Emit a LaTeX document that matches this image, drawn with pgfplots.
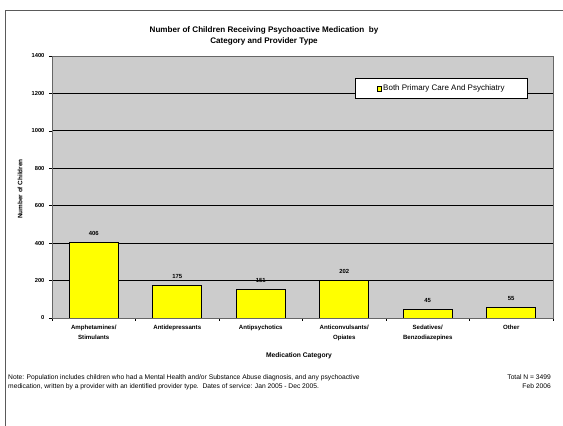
\documentclass[border=0pt]{standalone}
\usepackage{pgfplots}
\pgfplotsset{compat=1.18}
\usepackage{fontspec}
\setmainfont{Liberation Sans}
\definecolor{plotgray}{RGB}{204,204,204}
\definecolor{baryellow}{RGB}{255,255,0}
\definecolor{framegray}{RGB}{90,90,90}
\begin{document}
\begin{tikzpicture}[x=1pt,y=1pt]
\useasboundingbox (0,0) rectangle (563,426);
% outer frame
\draw[framegray, line width=0.9pt] (5,0) -- (5,416) -- (563,416);
% title
\node[align=center, font=\fontsize{8.1}{11}\selectfont\bfseries] at (264,390.5)
  {Number of Children Receiving Psychoactive Medication\ \ by\\Category and Provider Type};
% y label
\node[rotate=90, font=\fontsize{6.4}{7}\selectfont\bfseries] at (20,237) {Number of Children};
% x label
\node[font=\fontsize{6.7}{7}\selectfont\bfseries] at (299,70.5) {Medication Category};
% notes
\node[anchor=north west, align=left, font=\fontsize{6.7}{9.5}\selectfont, inner sep=0pt] at (8,52)
  {Note: Population includes children who had a Mental Health and/or Substance Abuse diagnosis, and any psychoactive\\
   medication, written by a provider with an identified provider type.\ \ Dates of service: Jan 2005 - Dec 2005.};
\node[anchor=north east, align=right, font=\fontsize{6.7}{9.5}\selectfont, inner sep=0pt] at (551,52)
  {Total N = 3499\\Feb 2006};
\begin{axis}[
  at={(52pt,108pt)}, anchor=south west,
  scale only axis, width=501pt, height=262pt,
  xmin=-0.5, xmax=5.5, ymin=0, ymax=1400,
  ytick={0,200,...,1400},
  xtick={0,...,5},
  xticklabels={{Amphetamines/\\Stimulants},Antidepressants,Antipsychotics,{Anticonvulsants/\\Opiates},{Sedatives/\\Benzodiazepines},Other},
  minor xtick={-0.5,0.5,...,5.5},
  major x tick style={draw=none},
  minor tick length=3pt, major tick length=3pt,
  tick pos=left, tick align=outside,
  tick style={black, line width=0.6pt},
  ymajorgrids, major grid style={black, line width=0.8pt},
  axis background/.style={fill=plotgray},
  axis line style={draw=gray!80!black, line width=0.8pt},
  /pgf/number format/assume math mode=true,
  /pgf/number format/1000 sep={},
  yticklabel style={font=\fontsize{5.8}{6}\selectfont\bfseries, xshift=-1pt},
  xticklabel style={font=\fontsize{6.1}{9.8}\selectfont\bfseries, align=center, yshift=-0.5pt},
  ybar, bar width=49pt,
  nodes near coords,
  nodes near coords style={font=\fontsize{5.9}{6}\selectfont\bfseries, yshift=3pt},
  legend style={at={(rel axis cs:0.95,0.916)}, anchor=north east, draw=black, fill=white,
    line width=0.7pt, font=\fontsize{8}{8}\selectfont, inner xsep=21pt, inner ysep=4.5pt},
  legend image code/.code={\draw[fill=baryellow, draw=black, line width=0.7pt] (0pt,-2.5pt) rectangle (3.8pt,2.5pt);},
]
\addplot[fill=baryellow, draw=black, line width=0.7pt] coordinates {(0,406) (1,175) (2,151) (3,202) (4,45) (5,55)};
\addlegendentry{Both Primary Care And Psychiatry}
\end{axis}
\end{tikzpicture}
\end{document}
